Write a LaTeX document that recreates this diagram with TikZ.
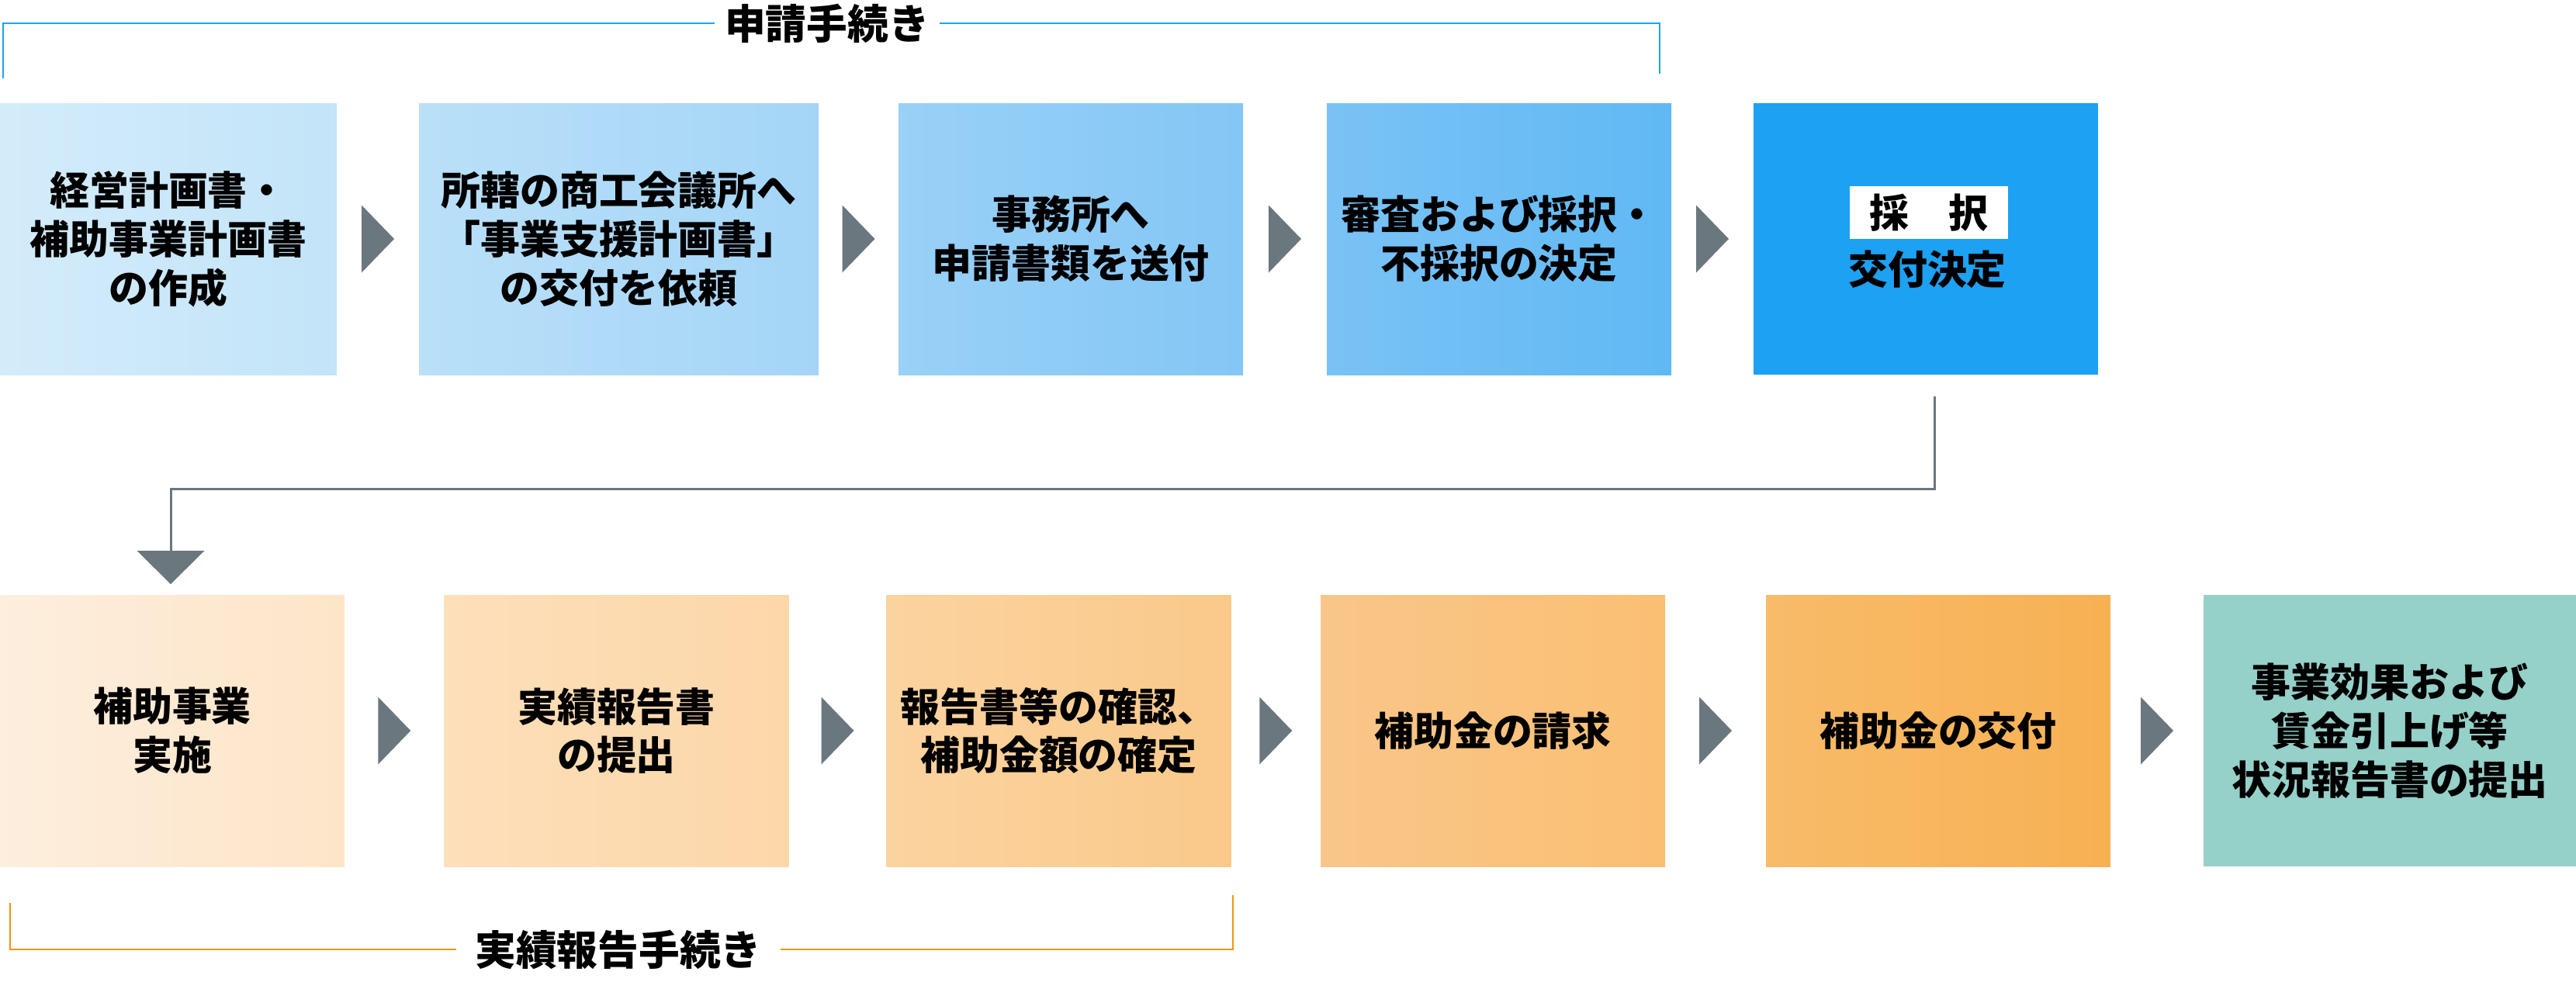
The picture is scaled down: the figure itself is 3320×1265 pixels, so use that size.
\documentclass[tikz,border=0pt]{standalone}
\usepackage{fontspec}
\newfontfamily\jp{Noto Sans CJK JP}
\usetikzlibrary{positioning}
\usetikzlibrary{calc}
\definecolor{arr}{HTML}{6B777E}
\definecolor{sky}{HTML}{1DA1F2}
\definecolor{orng}{HTML}{F0960A}
\definecolor{teal}{HTML}{95D0C9}
\tikzset{box/.style={rectangle, inner sep=0pt, minimum height=35mm, minimum width=44.4mm, align=center, font=\jp\bfseries\fontsize{14.5pt}{17.9pt}\selectfont}}
\tikzset{txt/.style={inner sep=0pt, font=\jp\bfseries\fontsize{14.5pt}{17.9pt}\selectfont}}
\tikzset{brl/.style={inner ysep=0pt, font=\jp\bfseries\fontsize{15pt}{18pt}\selectfont}}
\tikzset{brk/.style={line width=0.28mm}}
\tikzset{link/.style={draw=arr, line width=0.3mm}}
\tikzset{chev/.style={fill=arr}}
\begin{document}
\begin{tikzpicture}[x=0.1mm, y=-0.1mm]
        \useasboundingbox (0,0) rectangle (3320,1265);

        \node[box, minimum width=43.4mm, left color={rgb,255:red,211;green,236;blue,250}, right color={rgb,255:red,195;green,228;blue,249}] (p1) at (217,308) {経営計画書・\\補助事業計画書\\の作成};
        \node[box, minimum width=51.5mm, left color={rgb,255:red,186;green,224;blue,248}, right color={rgb,255:red,164;green,213;blue,247}] (p2) at (797.5,308) {所轄の商工会議所へ\\「事業支援計画書」\\の交付を依頼};
        \node[box, left color={rgb,255:red,153;green,209;blue,247}, right color={rgb,255:red,132;green,198;blue,245}] (p3) at (1380,308) {事務所へ\\申請書類を送付};
        \node[box, left color={rgb,255:red,122;green,194;blue,245}, right color={rgb,255:red,96;green,185;blue,244}] (p4) at (1932,308) {審査および採択・\\不採択の決定};
        \node[box, fill=sky] (p5) at (2482,308) {};
        \node[txt, fill=white, minimum width=20.4mm, minimum height=6.8mm] (adopt) at (2486,274) {採　択};
        \node[txt] (grant) at (2484,347) {交付決定};

        \node[box, left color={rgb,255:red,253;green,238;blue,221}, right color={rgb,255:red,253;green,229;blue,200}] (q1) at (222,942) {補助事業\\実施};
        \node[box, left color={rgb,255:red,253;green,223;blue,186}, right color={rgb,255:red,252;green,215;blue,169}] (q2) at (794.5,942) {実績報告書\\の提出};
        \node[box, left color={rgb,255:red,251;green,211;blue,160}, right color={rgb,255:red,250;green,201;blue,138}] (q3) at (1364.5,942) {報告書等の確認、\\補助金額の確定};
        \node[box, left color={rgb,255:red,249;green,198;blue,138}, right color={rgb,255:red,250;green,191;blue,114}] (q4) at (1924,942) {補助金の請求};
        \node[box, left color={rgb,255:red,248;green,187;blue,106}, right color={rgb,255:red,247;green,177;blue,83}] (q5) at (2498,942) {補助金の交付};
        \node[box, minimum width=48mm, fill=teal] (q6) at (3080,942) {事業効果および\\賃金引上げ等\\状況報告書の提出};

        \foreach \a/\b in {p1/p2,p2/p3,p3/p4,p4/p5,q1/q2,q2/q3,q3/q4,q4/q5,q5/q6}
          \fill[chev] ($(\a.east)!0.5!(\b.west)+(-21,-43.5)$) -- ++(42,43.5) -- ++(-42,43.5) -- cycle;

        \coordinate (k1) at (2493,511);
        \coordinate (k2) at (220,710);
        \draw[link] (k1) -- ++(0,119) -| (k2);
        \fill[chev] ($(k2)+(-43.5,0)$) -- ++(87,0) -- ++(-43.5,43) -- cycle;

        \node[brl, inner xsep=1.25mm] (apply) at (1066,30) {申請手続き};
        \coordinate (a1) at (4,101);
        \coordinate (a2) at (2139,95);
        \draw[brk, draw=sky] (a1) |- (apply) -| (a2);

        \node[brl, inner xsep=2.4mm] (report) at (797,1224) {実績報告手続き};
        \coordinate (r1) at (13,1164);
        \coordinate (r2) at (1589,1154);
        \draw[brk, draw=orng] (r1) |- (report) -| (r2);
    \end{tikzpicture}
\end{document}
